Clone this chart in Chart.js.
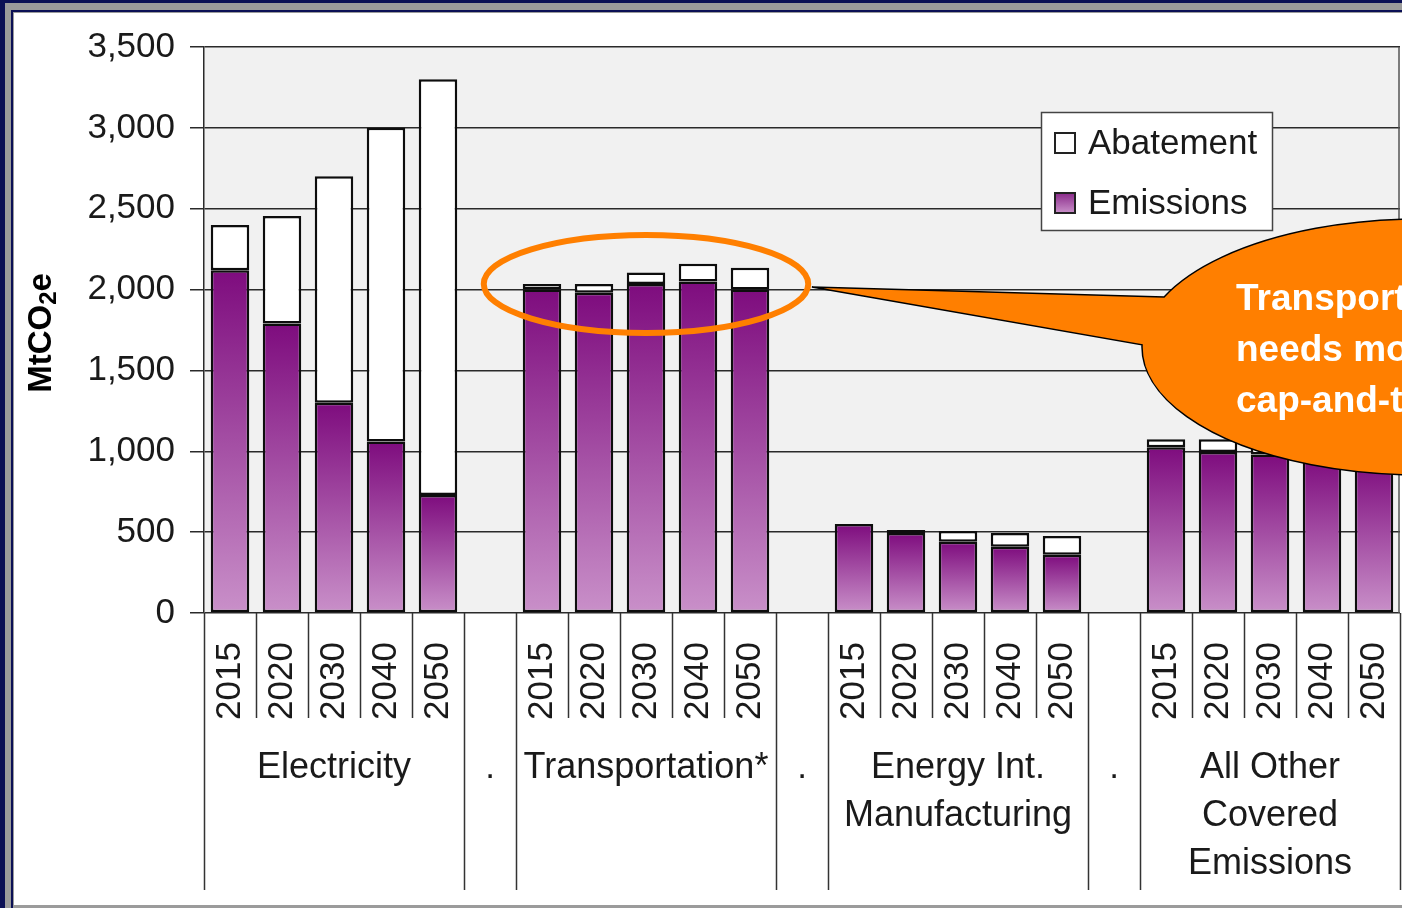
<!DOCTYPE html>
<html>
<head>
<meta charset="utf-8">
<title>Abatement and Emissions by Sector</title>
<script src="https://cdn.jsdelivr.net/npm/chart.js@4.4.1/dist/chart.umd.min.js"></script>
<style>
  html, body { margin: 0; padding: 0; background: #fff; overflow: hidden; }
  #wrap { width: 1402px; height: 908px; position: relative; }
</style>
</head>
<body>
<div id="wrap"><canvas id="chart" width="1402" height="908"></canvas></div>
<script>
// --- Data (MtCO2e) ---
// '.' marks the empty spacer column between sectors
const categories = [
  '2015', '2020', '2030', '2040', '2050', '.',
  '2015', '2020', '2030', '2040', '2050', '.',
  '2015', '2020', '2030', '2040', '2050', '.',
  '2015', '2020', '2030', '2040', '2050'
];
const sectorLabels = [
  ['Electricity'],
  ['Transportation*'],
  ['Energy Int.', 'Manufacturing'],
  ['All Other', 'Covered', 'Emissions']
];
const emissions = [
  2120, 1790, 1300, 1060, 730, null,
  2000, 1980, 2035, 2050, 2000, null,
  550, 495, 440, 410, 360, null,
  1025, 995, 980, 960, 940
];
const abatement = [
  280, 665, 1400, 1940, 2570, null,
  35, 55, 70, 110, 135, null,
  0, 18, 67, 85, 116, null,
  50, 80, 100, 120, 140
];
const yTicks = [0, 500, 1000, 1500, 2000, 2500, 3000, 3500];
const calloutLines = ['Transportation', 'needs more than', 'cap-and-trade'];

const FONT = "'Liberation Sans', Arial, sans-serif";
const INK = '#1a1a1a';

// --- Fill for emission bars: dark purple at top, light at the base ---
function emissionsFill(c) {
  const chart = c.chart;
  if (!chart.chartArea || c.raw == null) return '#a050a0';
  const y = chart.scales.y;
  const top = y.getPixelForValue(c.raw);
  const bottom = y.getPixelForValue(0);
  const g = chart.ctx.createLinearGradient(0, top, 0, bottom);
  g.addColorStop(0, '#7e0c7e');
  g.addColorStop(1, '#c990c9');
  return g;
}

// --- Plugins ---
const frame = {
  id: 'frame',
  beforeDraw(chart) {
    const { ctx, width: W, height: H, chartArea: a } = chart;
    ctx.save();
    ctx.fillStyle = '#fff';
    ctx.fillRect(0, 0, W, H);
    // slide border
    ctx.fillStyle = '#0b1055';
    ctx.fillRect(0, 0, W, 3);
    ctx.fillRect(0, 0, 5, H);
    ctx.fillStyle = '#9b9b9b';
    ctx.fillRect(5, 3, W, 7);
    ctx.fillRect(5, 3, 6, H);
    ctx.fillStyle = '#0b1055';
    ctx.fillRect(11, 10, W, 2);
    ctx.fillRect(11, 10, 2, H);
    ctx.fillStyle = '#9b9b9b';
    ctx.fillRect(13, 12, W, 1);
    ctx.fillRect(13, 12, 1, H);
    ctx.fillRect(14, H - 3, W, 3);
    // plot area
    ctx.fillStyle = '#f1f1f1';
    ctx.fillRect(a.left, a.top, a.right - a.left, a.bottom - a.top);
    ctx.restore();
  },
  beforeDatasetsDraw(chart) {
    const { ctx, chartArea: a } = chart;
    ctx.save();
    ctx.strokeStyle = '#555';
    ctx.lineWidth = 1.5;
    ctx.beginPath();
    ctx.moveTo(a.right - 1, a.top);
    ctx.lineTo(a.right - 1, a.bottom);
    ctx.stroke();
    ctx.restore();
  }
};

const xAxisLabels = {
  id: 'xAxisLabels',
  afterDraw(chart) {
    const { ctx, chartArea: a, scales: { x } } = chart;
    const n = categories.length;
    const w = x.getPixelForValue(1) - x.getPixelForValue(0);
    const left = x.getPixelForValue(0) - w / 2;
    const base = a.bottom;
    ctx.save();
    ctx.strokeStyle = '#333';
    ctx.lineWidth = 1.5;
    for (let i = 0; i <= n; i++) {
      const px = Math.round(left + i * w) + 0.5;
      const edge = i === 0 || i === n || categories[i] === '.' || categories[i - 1] === '.';
      ctx.beginPath();
      ctx.moveTo(px, base);
      ctx.lineTo(px, base + (edge ? 277 : 105));
      ctx.stroke();
    }
    ctx.fillStyle = INK;
    // years, rotated
    ctx.font = `35px ${FONT}`;
    categories.forEach((lab, i) => {
      const cx = x.getPixelForValue(i);
      if (lab === '.') {
        ctx.textAlign = 'center';
        ctx.textBaseline = 'middle';
        ctx.fillText('.', cx, base + 155);
        return;
      }
      ctx.save();
      ctx.translate(cx, base + 107);
      ctx.rotate(-Math.PI / 2);
      ctx.textAlign = 'left';
      ctx.textBaseline = 'middle';
      ctx.fillText(lab, 0, 0);
      ctx.restore();
    });
    // sector names
    ctx.font = `36px ${FONT}`;
    ctx.textAlign = 'center';
    ctx.textBaseline = 'middle';
    let start = 0;
    sectorLabels.forEach(lines => {
      let end = start;
      while (end < n && categories[end] !== '.') end++;
      const cx = (x.getPixelForValue(start) + x.getPixelForValue(end - 1)) / 2;
      lines.forEach((t, k) => ctx.fillText(t, cx, base + 155 + k * 48));
      start = end + 1;
    });
    ctx.restore();
  }
};

const yTitle = {
  id: 'yTitle',
  afterDraw(chart) {
    const { ctx, chartArea: a } = chart;
    ctx.save();
    ctx.translate(42, (a.top + a.bottom) / 2 + 3);
    ctx.rotate(-Math.PI / 2);
    ctx.fillStyle = '#000';
    ctx.textBaseline = 'middle';
    ctx.textAlign = 'left';
    const big = `bold 33px ${FONT}`, small = `bold 24px ${FONT}`;
    ctx.font = big;
    const w1 = ctx.measureText('MtCO').width;
    ctx.font = small;
    const w2 = ctx.measureText('2').width;
    ctx.font = big;
    const total = w1 + w2 + ctx.measureText('e').width;
    let px = -total / 2;
    ctx.fillText('MtCO', px, 0);
    px += w1;
    ctx.font = small;
    ctx.fillText('2', px, 7);
    px += w2;
    ctx.font = big;
    ctx.fillText('e', px, 0);
    ctx.restore();
  }
};

const legendBox = {
  id: 'legendBox',
  afterDatasetsDraw(chart) {
    const { ctx, chartArea: a } = chart;
    const bx = a.right - 359, by = a.top + 65, bw = 231, bh = 118;
    ctx.save();
    ctx.fillStyle = '#fff';
    ctx.fillRect(bx, by, bw, bh);
    ctx.strokeStyle = '#444';
    ctx.lineWidth = 1.5;
    ctx.strokeRect(bx + 0.5, by + 0.5, bw, bh);
    const items = [
      { label: 'Abatement', fill: '#fff' },
      { label: 'Emissions', fill: null }
    ];
    ctx.font = `35px ${FONT}`;
    ctx.textBaseline = 'middle';
    ctx.textAlign = 'left';
    items.forEach((it, k) => {
      const cy = by + 31 + k * 60;
      const sx = bx + 14, sy = cy - 10;
      if (it.fill) {
        ctx.fillStyle = it.fill;
      } else {
        const g = ctx.createLinearGradient(0, sy, 0, sy + 20);
        g.addColorStop(0, '#8a2a8a');
        g.addColorStop(1, '#c990c9');
        ctx.fillStyle = g;
      }
      ctx.fillRect(sx, sy, 20, 20);
      ctx.strokeStyle = '#222';
      ctx.lineWidth = 2;
      ctx.strokeRect(sx, sy, 20, 20);
      ctx.fillStyle = INK;
      ctx.fillText(it.label, bx + 47, cy + 1);
    });
    ctx.restore();
  }
};

const annotations = {
  id: 'annotations',
  afterDraw(chart) {
    const { ctx, chartArea: a, scales: { x, y } } = chart;
    const w = x.getPixelForValue(1) - x.getPixelForValue(0);
    // ring around the transportation bars
    const ex = (x.getPixelForValue(6) + x.getPixelForValue(10)) / 2;
    const ey = y.getPixelForValue(2035);
    ctx.save();
    ctx.strokeStyle = '#ff7f00';
    ctx.lineWidth = 6;
    ctx.beginPath();
    ctx.ellipse(ex, ey, w * 3.12, 49, 0, 0, Math.PI * 2);
    ctx.stroke();

    // speech bubble
    const tipX = ex + w * 3.19, tipY = ey + 3;
    const cx = a.right + 20, cy = 347, rx = 278, ry = 128;
    const t1 = 203 * Math.PI / 180, t2 = 541 * Math.PI / 180;
    ctx.beginPath();
    ctx.moveTo(tipX, tipY);
    ctx.lineTo(cx + rx * Math.cos(t1), cy + ry * Math.sin(t1));
    ctx.ellipse(cx, cy, rx, ry, 0, t1, t2);
    ctx.closePath();
    ctx.fillStyle = '#ff7f00';
    ctx.fill();
    ctx.strokeStyle = '#000';
    ctx.lineWidth = 1.5;
    ctx.stroke();

    ctx.fillStyle = '#fff';
    ctx.font = `bold 37px ${FONT}`;
    ctx.textAlign = 'left';
    ctx.textBaseline = 'alphabetic';
    calloutLines.forEach((t, k) => ctx.fillText(t, cx - 184, 310 + k * 51));
    ctx.restore();
  }
};

// --- Chart ---
new Chart(document.getElementById('chart'), {
  type: 'bar',
  data: {
    labels: categories,
    datasets: [
      {
        label: 'Emissions',
        data: emissions,
        backgroundColor: emissionsFill,
        borderColor: '#0d0d0d',
        borderWidth: 2.5,
        borderSkipped: false
      },
      {
        label: 'Abatement',
        data: abatement,
        backgroundColor: '#fff',
        borderColor: '#0d0d0d',
        borderWidth: 2.5,
        borderSkipped: false
      }
    ]
  },
  options: {
    responsive: false,
    animation: false,
    layout: { padding: { top: 47, right: 2, left: 0, bottom: 0 } },
    datasets: { bar: { barPercentage: 0.74, categoryPercentage: 1 } },
    plugins: {
      legend: { display: false },
      tooltip: { enabled: false }
    },
    scales: {
      x: {
        stacked: true,
        grid: { display: false },
        border: { display: false },
        ticks: { display: false },
        afterFit: s => { s.height = 295; }
      },
      y: {
        stacked: true,
        min: 0,
        max: 3500,
        afterBuildTicks: s => { s.ticks = yTicks.map(v => ({ value: v })); },
        ticks: {
          color: INK,
          font: { family: FONT, size: 35 },
          padding: 15,
          callback: v => v.toLocaleString('en-US')
        },
        grid: { color: '#2a2a2a', lineWidth: 1.5, tickLength: 14 },
        border: { color: '#2a2a2a', width: 1.5 },
        afterFit: s => { s.width = 204; }
      }
    }
  },
  plugins: [frame, xAxisLabels, yTitle, legendBox, annotations]
});
</script>
</body>
</html>
